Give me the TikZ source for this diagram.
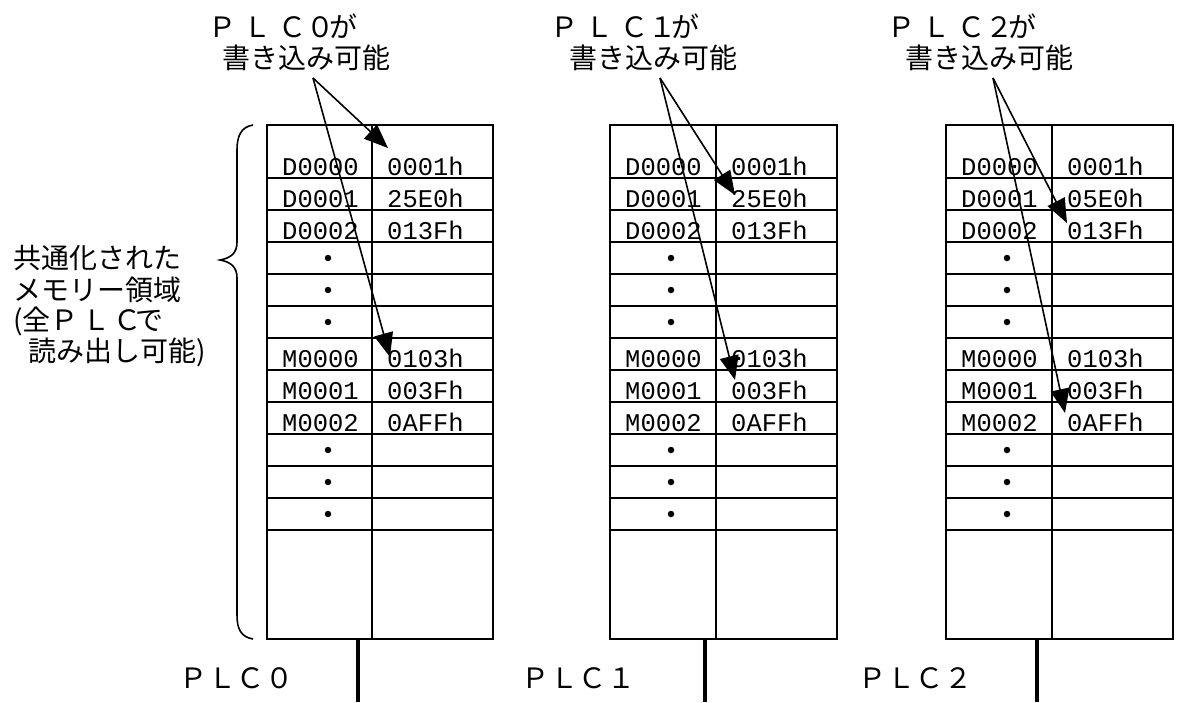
\documentclass[tikz,border=0pt]{standalone}
\usepackage{fontspec}
\usetikzlibrary{arrows.meta}
\newfontfamily\jpfont{Noto Sans CJK JP}
\newfontfamily\jplsfont{Noto Sans CJK JP}[LetterSpace=25]
\newfontfamily\jplsbfont{Noto Sans CJK JP}[LetterSpace=3]
\newfontfamily\jplscfont{Noto Sans CJK JP}[LetterSpace=12]
\newfontfamily\tblfont{Liberation Mono}
\tikzset{
  tbl/.style={line width=1.8pt},
  cell/.style={font=\tblfont\fontsize{25.5}{25.5}\selectfont, anchor=base west, inner sep=0pt},
  jp/.style={font=\jpfont\fontsize{28}{31}\selectfont, anchor=west, inner sep=0pt},
  ptr/.style={line width=1.6pt, -{Triangle[length=24pt,width=19pt]}},
  bus/.style={line width=4pt},
  dotmark/.style={fill=black, circle, inner sep=0pt, minimum size=6.5pt},
}
% #1 left, #2 mid, #3 right, #4 prefix, #5 value of D0001
\newcommand\memtable[5]{%
  \draw[tbl] (#1,125) rectangle (#3,639);
  \draw[tbl] (#2,125) -- (#2,639);
  \foreach \yy in {178,210,...,530} \draw[tbl] (#1,\yy) -- (#3,\yy);
  \node[cell] (#4a0) at (#1+15,175) {D0000};
  \node[cell] (#4b0) at (#2+15,175) {0001h};
  \node[cell] (#4a1) at (#1+15,207) {D0001};
  \node[cell] (#4b1) at (#2+15,207) {#5};
  \node[cell] (#4a2) at (#1+15,239) {D0002};
  \node[cell] (#4b2) at (#2+15,239) {013Fh};
  \node[cell] (#4a3) at (#1+15,367) {M0000};
  \node[cell] (#4b3) at (#2+15,367) {0103h};
  \node[cell] (#4a4) at (#1+15,399) {M0001};
  \node[cell] (#4b4) at (#2+15,399) {003Fh};
  \node[cell] (#4a5) at (#1+15,431) {M0002};
  \node[cell] (#4b5) at (#2+15,431) {0AFFh};
  \foreach \yy/\k in {258/1,290/2,322/3,450/4,482/5,514/6}
    \node[dotmark] (#4d\k) at (#1+61,\yy) {};
}
\begin{document}
\begin{tikzpicture}[x=1pt,y=-1pt]
\useasboundingbox (0,0) rectangle (1186,702);

% tables
\memtable{267}{372}{493}{ta}{25E0h}
\memtable{610}{716}{837}{tb}{25E0h}
\memtable{946}{1052}{1173}{tc}{05E0h}

% bus lines
\coordinate (busa) at (358,639); \coordinate (busae) at (358,702);
\coordinate (busb) at (705,639); \coordinate (busbe) at (705,702);
\coordinate (busc) at (1037,639); \coordinate (busce) at (1037,702);
\draw[bus] (busa) -- (busae);
\draw[bus] (busb) -- (busbe);
\draw[bus] (busc) -- (busce);

% bottom labels
\node[jp, font=\jplsbfont\fontsize{28}{31}\selectfont] (plc0) at (179,678) {ＰＬＣ０};
\node[jp, font=\jplsbfont\fontsize{28}{31}\selectfont] (plc1) at (521,678) {ＰＬＣ１};
\node[jp, font=\jplsbfont\fontsize{28}{31}\selectfont] (plc2) at (858,678) {ＰＬＣ２};

% top labels
\node[jp] (wa1) at (208,26) {{\jplsfont ＰＬＣ}０\kern-5pt が};
\node[jp] (wa2) at (222,58) {書き込み可能};
\node[jp] (wb1) at (550,26) {{\jplsfont ＰＬＣ}１\kern-5pt が};
\node[jp] (wb2) at (569,58) {書き込み可能};
\node[jp] (wc1) at (887,26) {{\jplsfont ＰＬＣ}２\kern-5pt が};
\node[jp] (wc2) at (905,58) {書き込み可能};

% left description
\node[jp] (desc1) at (13,258) {共通化された};
\node[jp] (desc2) at (13,290) {メモリー領域};
\node[jp] (desc3) at (13,321) {(全{\jplscfont ＰＬＣ}\kern-6pt で};
\node[jp] (desc4) at (28,352) {読み出し可能)};

% brace
\draw[line width=1.6pt] (253,125) .. controls (241,127) and (237,136) .. (237,150)
  -- (237,242) .. controls (237,253) and (231,258) .. (220,260)
  .. controls (231,262) and (237,267) .. (237,278)
  -- (237,615) .. controls (237,629) and (241,637) .. (253,639);

% arrows
\coordinate (apa) at (313,78);
\coordinate (tipa1) at (388,148);
\coordinate (tipa2) at (390,357);
\coordinate (apb) at (660,78);
\coordinate (tipb1) at (735,195);
\coordinate (tipb2) at (735,380);
\coordinate (apc) at (993,78);
\coordinate (tipc1) at (1067,223);
\coordinate (tipc2) at (1065,413);
\draw[ptr] (apa) -- (tipa1);
\draw[ptr] (apa) -- (tipa2);
\draw[ptr] (apb) -- (tipb1);
\draw[ptr] (apb) -- (tipb2);
\draw[ptr] (apc) -- (tipc1);
\draw[ptr] (apc) -- (tipc2);
\end{tikzpicture}
\end{document}
